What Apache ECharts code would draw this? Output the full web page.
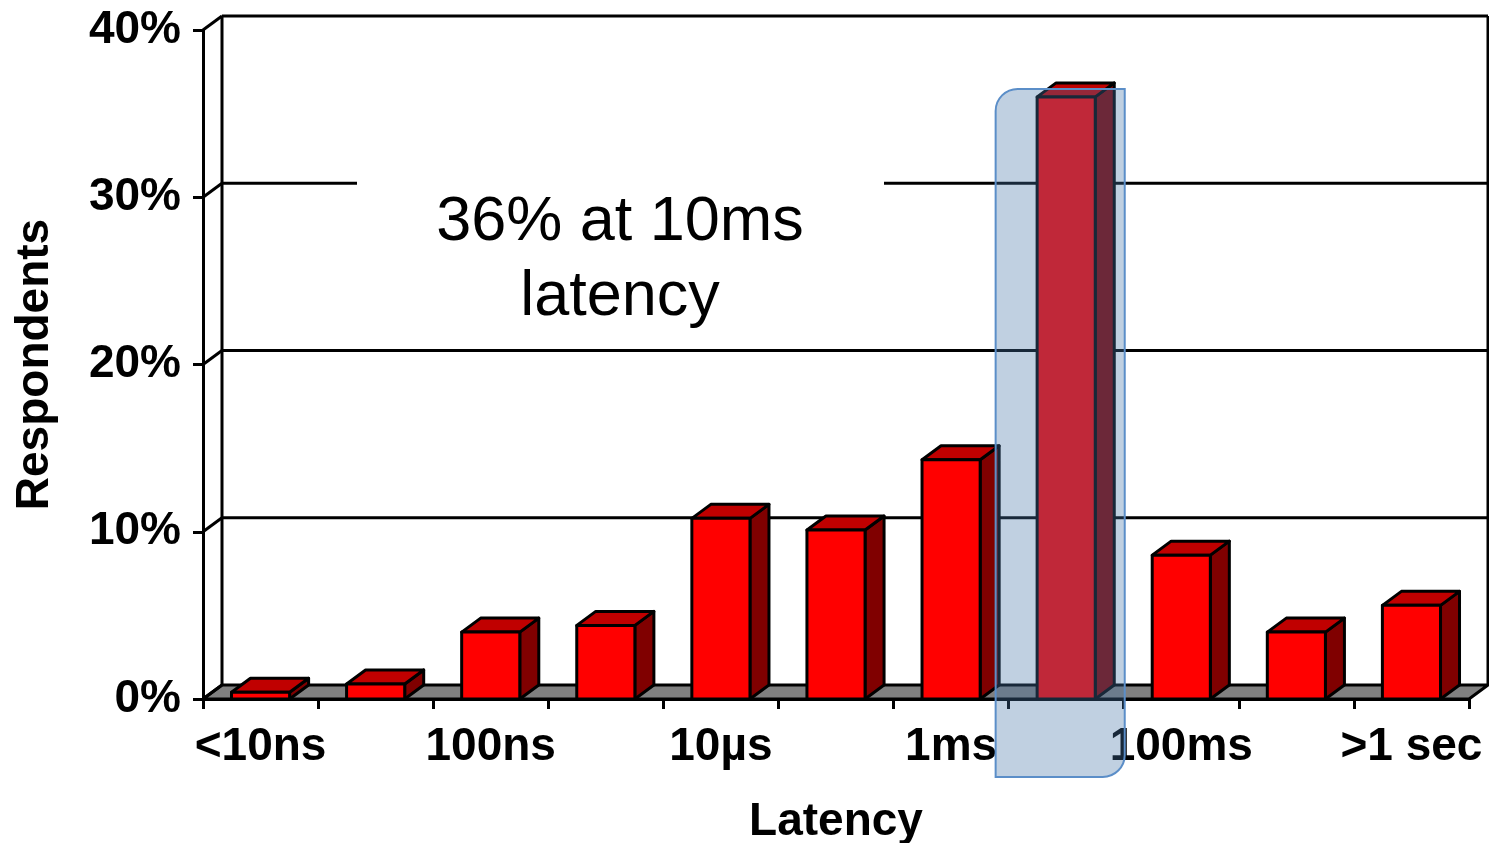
<!DOCTYPE html>
<html>
<head>
<meta charset="utf-8">
<script src="https://cdn.jsdelivr.net/npm/echarts@6/dist/echarts.min.js"></script>
<style>
  html, body { margin: 0; padding: 0; background: #fff; }
  #chart { width: 1489px; height: 843px; }
</style>
</head>
<body>
<div id="chart"></div>
<script>
// Latency buckets (every other one is labelled on the axis)
const categories = ['<10ns', '10ns', '100ns', '1µs', '10µs', '100µs', '1ms', '10ms', '100ms', '1 sec', '>1 sec'];
// Share of respondents per bucket, in percent
const respondents = [0.4, 0.9, 4.0, 4.4, 10.8, 10.1, 14.3, 36, 8.6, 4.0, 5.6];
// Value-axis ticks
const yTicks = [0, 10, 20, 30, 40];
// Bucket called out by the highlight box and its note
const highlightIndex = 7;
const noteLines = ['36% at 10ms', 'latency'];

const FONT = '"Liberation Sans", Arial, Helvetica, sans-serif';
// Pseudo-3D depth offset of the back wall and bar tops
const DX = 19, DY = -14;
const LW = 3;

const chart = echarts.init(document.getElementById('chart'), null, { renderer: 'canvas' });

// Back wall, side lines and grey floor of the 3D plot area
function renderFrame(params, api) {
  const cs = params.coordSys;
  const left = cs.x, right = cs.x + cs.width;
  const children = [];
  const line = (x1, y1, x2, y2) => ({
    type: 'line', shape: { x1, y1, x2, y2 },
    style: { stroke: '#000', lineWidth: LW }
  });
  const y0 = api.coord([0, 0])[1];
  // floor
  children.push({
    type: 'polygon',
    shape: { points: [[left, y0], [right, y0], [right + DX, y0 + DY], [left + DX, y0 + DY]] },
    style: { fill: '#808080', stroke: '#000', lineWidth: LW, lineJoin: 'round' }
  });
  // wall gridlines + left diagonals
  yTicks.forEach(v => {
    const y = api.coord([0, v])[1];
    if (v > 0) children.push(line(left + DX, y + DY, right + DX, y + DY));
    children.push(line(left, y, left + DX, y + DY));
  });
  const yTop = api.coord([0, yTicks[yTicks.length - 1]])[1];
  children.push(line(left + DX, yTop + DY, left + DX, y0 + DY));
  children.push(line(right + DX, yTop + DY, right + DX, y0 + DY));
  return { type: 'group', children };
}

// One 3D bar: front face, top and right side
function renderBar(params, api) {
  const idx = api.value(0), val = api.value(1);
  const base = api.coord([idx, 0]);
  const top = api.coord([idx, val]);
  const w = api.size([1, 0])[0] * 0.505;
  const x0 = base[0] - w / 2, x1 = base[0] + w / 2;
  const yb = base[1], yt = top[1];
  const stroke = { stroke: '#000', lineWidth: LW, lineJoin: 'round' };
  return {
    type: 'group',
    children: [
      { type: 'polygon', shape: { points: [[x1, yt], [x1 + DX, yt + DY], [x1 + DX, yb + DY], [x1, yb]] },
        style: Object.assign({ fill: '#800000' }, stroke) },
      { type: 'polygon', shape: { points: [[x0, yt], [x0 + DX, yt + DY], [x1 + DX, yt + DY], [x1, yt]] },
        style: Object.assign({ fill: '#c00000' }, stroke) },
      { type: 'rect', shape: { x: x0, y: yt, width: w, height: yb - yt },
        style: Object.assign({ fill: '#ff0000' }, stroke) }
    ]
  };
}

// Translucent call-out box over the highlighted bucket
function renderHighlight(params, api) {
  const idx = api.value(0), val = api.value(1);
  const base = api.coord([idx, 0]);
  const top = api.coord([idx, val]);
  const cw = api.size([1, 0])[0];
  const x0 = base[0] - cw / 2 - 13;
  const x1 = base[0] + cw / 2 + 1;
  const yT = top[1] + DY + 6;
  const yB = base[1] + 78;
  return {
    type: 'rect',
    shape: { x: x0, y: yT, width: x1 - x0, height: yB - yT, r: [22, 0, 22, 0] },
    style: { fill: 'rgba(70,116,166,0.34)', stroke: '#5b8ec8', lineWidth: 2 }
  };
}

const option = {
  animation: false,
  backgroundColor: '#fff',
  grid: { left: 203, right: 20, top: 30, bottom: 144, outerBoundsMode: 'none', containLabel: false },
  xAxis: {
    type: 'category',
    data: categories,
    boundaryGap: true,
    axisLine: { show: true, lineStyle: { color: '#000', width: LW } },
    axisTick: { show: true, interval: 0, length: 10, lineStyle: { color: '#000', width: LW } },
    axisLabel: { interval: 1, color: '#000', fontFamily: FONT, fontWeight: 'bold', fontSize: 46, margin: 25 },
    splitLine: { show: false },
    name: 'Latency',
    nameLocation: 'middle',
    nameGap: 100,
    nameTextStyle: { color: '#000', fontFamily: FONT, fontWeight: 'bold', fontSize: 46 }
  },
  yAxis: {
    type: 'value',
    min: 0, max: 40, interval: 10,
    axisLine: { show: true, lineStyle: { color: '#000', width: LW } },
    axisTick: { show: true, length: 10, lineStyle: { color: '#000', width: LW } },
    axisLabel: { formatter: '{value}%', color: '#000', fontFamily: FONT, fontWeight: 'bold', fontSize: 46, margin: 22 },
    splitLine: { show: false },
    name: 'Respondents',
    nameLocation: 'middle',
    nameRotate: 90,
    nameGap: 145,
    nameTextStyle: { color: '#000', fontFamily: FONT, fontWeight: 'bold', fontSize: 46 }
  },
  series: [
    { type: 'custom', z: 1, silent: true, renderItem: renderFrame, data: [[0, 0]] },
    { type: 'custom', z: 3, renderItem: renderBar,
      data: respondents.map((v, i) => [i, v]) },
    { type: 'custom', z: 10, silent: true, renderItem: renderHighlight, clip: false,
      data: [[highlightIndex, respondents[highlightIndex]]] }
  ],
  graphic: [
    {
      type: 'rect', z: 50, silent: true,
      shape: { x: 357, y: 168, width: 527, height: 170 },
      style: { fill: '#fff' }
    },
    {
      type: 'text', z: 51, silent: true,
      x: 620, y: 260,
      style: {
        text: noteLines.join('\n'),
        fontFamily: FONT,
        fontSize: 63,
        lineHeight: 75,
        fill: '#000',
        align: 'center',
        verticalAlign: 'middle'
      }
    }
  ]
};

chart.setOption(option);
</script>
</body>
</html>
